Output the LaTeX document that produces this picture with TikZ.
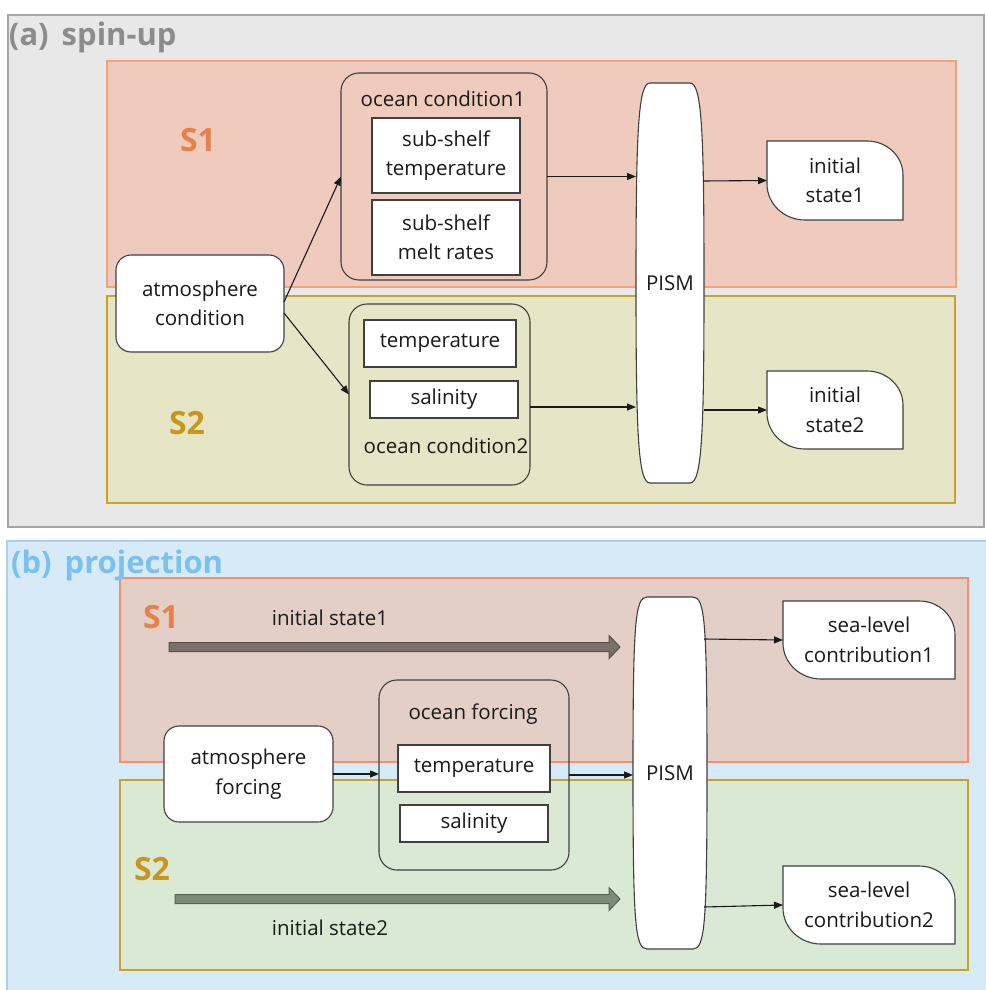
\documentclass[tikz,border=0pt]{standalone}
\usepackage{fontspec}
\setmainfont{Open Sans}
\usetikzlibrary{calc,arrows.meta}
\definecolor{txt}{HTML}{1A1A1A}
\definecolor{bord}{HTML}{404040}
\definecolor{panA}{HTML}{E8E8E8}
\definecolor{panAb}{HTML}{A6A6A6}
\definecolor{titA}{HTML}{8C8C8C}
\definecolor{sOneA}{HTML}{EECBBC}
\definecolor{sOneAb}{HTML}{F4A27A}
\definecolor{sTwoA}{HTML}{E6E6C6}
\definecolor{sTwoAb}{HTML}{C9A22A}
\definecolor{labOne}{HTML}{E8804A}
\definecolor{labTwo}{HTML}{C8961E}
\definecolor{panB}{HTML}{D6EBF7}
\definecolor{panBb}{HTML}{A8D2EE}
\definecolor{titB}{HTML}{7CC0EE}
\definecolor{sOneB}{HTML}{E3CFC6}
\definecolor{sOneBb}{HTML}{F49070}
\definecolor{sTwoB}{HTML}{D9E9D4}
\definecolor{bigOne}{HTML}{7B716C}
\definecolor{bigOneb}{HTML}{564F4C}
\definecolor{bigTwo}{HTML}{7C8A78}
\definecolor{bigTwob}{HTML}{566454}
\pgfdeclarelayer{bg}
\pgfdeclarelayer{shp}
\pgfsetlayers{bg,shp,main}
\tikzset{
  every node/.style={font=\fontsize{20.5}{29.5}\selectfont, text=txt, inner sep=0pt, outer sep=0pt, align=center},
  sz/.style 2 args={minimum width=#1pt, minimum height=#2pt},
  box/.style={draw=bord, fill=white, line width=1.1pt},
  rbox/.style={box, rounded corners=15pt},
  grp/.style={draw=bord, line width=1.1pt, rounded corners=18pt},
  conn/.style={draw=txt, line width=1.1pt, -{Triangle[length=9pt,width=7pt]}},
  slab/.style={font=\fontsize{32}{32}\selectfont\bfseries},
  ttl/.style={font=\fontsize{31}{31}\selectfont\bfseries, anchor=base west, align=left},
}
\newcommand{\pismpath}[1]{%
  \draw[box] ($(#1.north west)+(14,0)$) -- ($(#1.north east)+(-14,0)$)
    .. controls ($(#1.north east)+(-2,0)$) and ($(#1.east)+(0,150)$) .. (#1.east)
    .. controls ($(#1.east)+(0,-150)$) and ($(#1.south east)+(-2,0)$) .. ($(#1.south east)+(-14,0)$)
    -- ($(#1.south west)+(14,0)$)
    .. controls ($(#1.south west)+(2,0)$) and ($(#1.west)+(0,-150)$) .. (#1.west)
    .. controls ($(#1.west)+(0,150)$) and ($(#1.north west)+(2,0)$) .. cycle;}
\newcommand{\stpath}[1]{%
  \draw[box] (#1.north west) -- ($(#1.north east)+(-36,0)$)
    arc[start angle=90, end angle=0, x radius=36, y radius=34]
    -- (#1.south east) -- ($(#1.south west)+(38,0)$)
    arc[start angle=270, end angle=180, x radius=38, y radius=36] -- cycle;}
\newcommand{\bigarrow}[4]{%
  \draw[fill=#3, draw=#4, line width=1pt] ($(#1)+(0,4.5)$) -- ($(#2)+(-11,4.5)$)
    -- ($(#2)+(-11,11.5)$) -- (#2) -- ($(#2)+(-11,-11.5)$) -- ($(#2)+(-11,-4.5)$)
    -- ($(#1)+(0,-4.5)$) -- cycle;}
\begin{document}
\begin{tikzpicture}[x=1pt, y=1pt]
\useasboundingbox (0,0) rectangle (985,-990);
\begin{pgfonlayer}{bg}
  % panel (a)
  \draw[fill=panA, draw=panAb, line width=1.2pt] (8,-15) rectangle (984,-527);
  \draw[fill=sOneA, draw=sOneAb, line width=1.1pt] (107,-61) rectangle (956,-287);
  \draw[fill=sTwoA, draw=sTwoAb, line width=1.1pt] (107,-296) rectangle (955,-503);
  % panel (b)
  \draw[fill=panB, draw=panBb, line width=1.2pt] (7,-541) rectangle (995,-1000);
  \draw[fill=sOneB, draw=sOneBb, line width=1.1pt] (120,-578) rectangle (968,-762);
  \draw[fill=sTwoB, draw=sTwoAb, line width=1.1pt] (120,-780) rectangle (968,-970);
\end{pgfonlayer}

% ---------- (a) spin-up ----------
\node[ttl, text=titA] (titleA) at (9,-46) {(a)\hspace{13pt}spin-up};
\node[slab, text=labOne] (sOneLabA) at (198,-140) {S1};
\node[slab, text=labTwo] (sTwoLabA) at (187,-423) {S2};

\node[rbox, sz={168}{97}] (atmA) at (200,-303.5) {atmosphere\\condition};

\node[grp, sz={206}{207}] (ocA) at (444,-176.5) {};
\node (ocAlab) at (443,-99) {ocean condition1};
\node[box, sz={148}{75}] (sst) at (446,-155.5) {sub-shelf\\temperature};
\node[box, sz={148}{75}] (smr) at (446,-237.5) {sub-shelf\\melt rates};

\node[grp, sz={181}{181}] (ocB) at (439.5,-394.5) {};
\node[box, sz={152}{47}] (tmpA) at (440,-343.5) {temperature};
\node[box, sz={148}{37}] (salA) at (444,-399.5) {salinity};
\node (ocBlab) at (446,-446) {ocean condition2};

\node[sz={68}{400}] (pismA) at (670,-283) {PISM};
\begin{pgfonlayer}{shp}\pismpath{pismA}\end{pgfonlayer}

\node[sz={136}{79}] (isOne) at (835,-180.5) {initial\\state1};
\begin{pgfonlayer}{shp}\stpath{isOne}\end{pgfonlayer}
\node[sz={136}{78}] (isTwo) at (835,-410) {initial\\state2};
\begin{pgfonlayer}{shp}\stpath{isTwo}\end{pgfonlayer}

\draw[conn] ($(atmA.east)+(0,1.5)$) -- (ocA.west);
\draw[conn] ($(atmA.east)+(0,-9.5)$) -- (ocB.west);
\draw[conn] (ocA.east) -- (ocA.east -| pismA.west);
\draw[conn] ($(ocB.east)+(0,-12.5)$) -- ($(pismA.west |- ocB.east)+(0,-12.5)$);
\draw[conn] ($(pismA.east |- isOne.west)+(-1,-0.5)$) -- (isOne.west);
\draw[conn] (pismA.east |- isTwo.west) -- (isTwo.west);

% ---------- (b) projection ----------
\node[ttl, text=titB] (titleB) at (11,-573) {(b)\hspace{13pt}projection};
\node[slab, text=labOne] (sOneLabB) at (161,-617) {S1};
\node[slab, text=labTwo] (sTwoLabB) at (152,-869) {S2};

\node (isOneLab) at (330,-618) {initial state1};
\node (isTwoLab) at (330,-928) {initial state2};
\coordinate (bOneS) at (169,-647);
\coordinate (bOneE) at (620,-647);
\coordinate (bTwoS) at (175,-899);
\coordinate (bTwoE) at (620,-899);
\bigarrow{bOneS}{bOneE}{bigOne}{bigOneb}
\bigarrow{bTwoS}{bTwoE}{bigTwo}{bigTwob}

\node[rbox, sz={169}{96}] (atmB) at (248.5,-774) {atmosphere\\forcing};

\node[grp, sz={190}{190}] (ocF) at (474,-775) {};
\node (ocFlab) at (473,-714) {ocean forcing};
\node[box, sz={152}{47}] (tmpB) at (474,-768.5) {temperature};
\node[box, sz={148}{37}] (salB) at (474,-823.5) {salinity};

\node[sz={74}{352}] (pismB) at (670,-773) {PISM};
\begin{pgfonlayer}{shp}\pismpath{pismB}\end{pgfonlayer}

\node[sz={172}{78}] (slcOne) at (869,-640) {sea-level\\contribution1};
\begin{pgfonlayer}{shp}\stpath{slcOne}\end{pgfonlayer}
\node[sz={172}{78}] (slcTwo) at (869,-905) {sea-level\\contribution2};
\begin{pgfonlayer}{shp}\stpath{slcTwo}\end{pgfonlayer}

\draw[conn] (atmB.east) -- (atmB.east -| ocF.west);
\draw[conn] (ocF.east) -- (ocF.east -| pismB.west);
\draw[conn] ($(pismB.east |- slcOne.west)+(-3,1)$) -- (slcOne.west);
\draw[conn] ($(pismB.east |- slcTwo.west)+(-3,-2)$) -- (slcTwo.west);
\end{tikzpicture}
\end{document}
